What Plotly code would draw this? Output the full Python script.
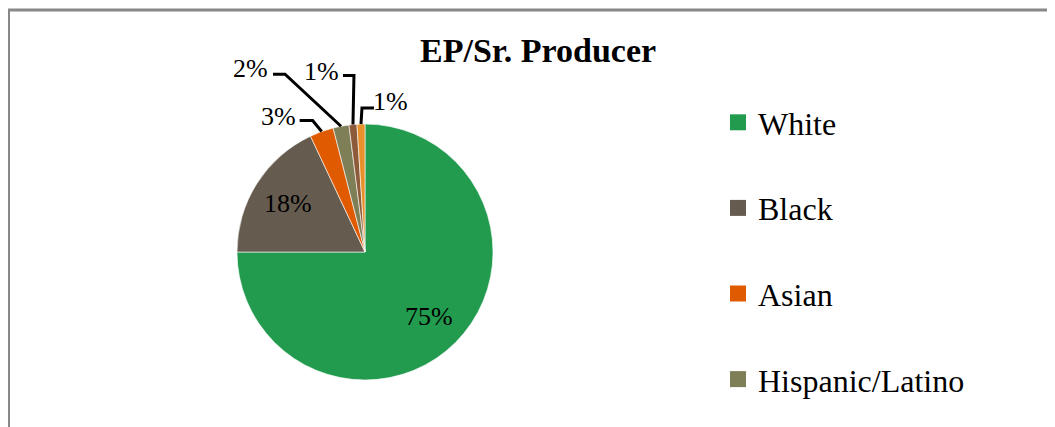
import math
import plotly.graph_objects as go

# ---- data ----
categories = ["White", "Black", "Asian", "Hispanic/Latino", "Other", "Multiracial"]
values = [75, 18, 3, 2, 1, 1]
colors = ["#229B4F", "#665B4F", "#E05A00", "#7F7F57", "#8E5B3A", "#E8902A"]
legend_shown = 4  # only the first four legend entries fit in the frame
title_text = "EP/Sr. Producer"

# ---- layout constants (pixels, in screenshot coordinates) ----
W, H = 1055, 427
OFF = 8  # page body margin offset
CX, CY, R = 365, 252, 128
FONT = "Liberation Serif"


def px_x(x):
    return (x - OFF) / W


def px_y(y):
    return 1 - (y - OFF) / H


fig = go.Figure()
fig.add_trace(go.Pie(
    labels=categories,
    values=values,
    marker=dict(colors=colors, line=dict(color="white", width=0.6)),
    sort=False,
    direction="clockwise",
    rotation=0,
    textinfo="none",
    hoverinfo="label+percent",
    showlegend=False,
    domain=dict(x=[px_x(CX - R), px_x(CX + R)], y=[px_y(CY + R), px_y(CY - R)]),
))

# legend entries via dummy traces (one group each to control spacing)
for i in range(legend_shown):
    fig.add_trace(go.Scatter(
        x=[None], y=[None], mode="markers", name=categories[i],
        legendgroup=categories[i],
        marker=dict(symbol="square", size=16, color=colors[i]),
    ))

# slice geometry from the data
total = sum(values)
mids = []
acc = 0
for v in values:
    mids.append((acc + v / 2) / total * 2 * math.pi)  # clockwise from 12 o'clock
    acc += v

annotations = []
shapes = []
lbl_font = dict(family=FONT, size=26, color="black")

# inside labels for the two big slices
for i in (0, 1):
    a = mids[i]
    rr = 0.71 * R
    x = CX + rr * math.sin(a)
    y = CY - rr * math.cos(a)
    annotations.append(dict(x=px_x(x), y=px_y(y), xref="paper", yref="paper",
                            xanchor="center", yanchor="middle",
                            text=f"{values[i]}%", showarrow=False, font=lbl_font))

# outside labels with leader lines: (elbow offset, end offset, label offset) relative to anchor
leader_style = {
    2: ((-9, -11), (-22, -11), (-43, -15)),
    3: ((-56, -52), (-68, -52), (-91, -58)),
    4: ((1, -49), (-10, -49), (-31, -53)),
    5: ((1, -16), (13, -16), (30, -23)),
}
for i, (el, en, lo) in leader_style.items():
    a = mids[i]
    ax = CX + R * math.sin(a)
    ay = CY - R * math.cos(a)
    p1 = (ax + el[0], ay + el[1])
    p2 = (ax + en[0], ay + en[1])
    path = (f"M {px_x(ax)} {px_y(ay)} L {px_x(p1[0])} {px_y(p1[1])} "
            f"L {px_x(p2[0])} {px_y(p2[1])}")
    shapes.append(dict(type="path", xref="paper", yref="paper", path=path,
                       line=dict(color="black", width=3)))
    annotations.append(dict(x=px_x(ax + lo[0]), y=px_y(ay + lo[1]), xref="paper", yref="paper",
                            xanchor="center", yanchor="middle",
                            text=f"{values[i]}%", showarrow=False, font=lbl_font))

# title
annotations.append(dict(x=px_x(538), y=px_y(50), xref="paper", yref="paper",
                        xanchor="center", yanchor="middle",
                        text=f"<b>{title_text}</b>", showarrow=False,
                        font=dict(family=FONT, size=34, color="black")))

# chart frame (cropped: only top and left edges visible)
shapes.append(dict(type="rect", xref="paper", yref="paper",
                   x0=px_x(8.5), x1=px_x(W + 40), y0=px_y(H + 40), y1=px_y(10),
                   line=dict(color="#888888", width=3), fillcolor="rgba(0,0,0,0)"))

fig.update_layout(
    width=W, height=H,
    margin=dict(l=0, r=0, t=0, b=0),
    paper_bgcolor="white", plot_bgcolor="white",
    xaxis=dict(visible=False), yaxis=dict(visible=False),
    showlegend=True,
    legend=dict(x=px_x(718), y=px_y(95), xanchor="left", yanchor="top",
                font=dict(family=FONT, size=32, color="black"),
                traceorder="grouped", tracegroupgap=41,
                bgcolor="rgba(0,0,0,0)"),
    annotations=annotations,
    shapes=shapes,
)

fig.write_html("out.html")
